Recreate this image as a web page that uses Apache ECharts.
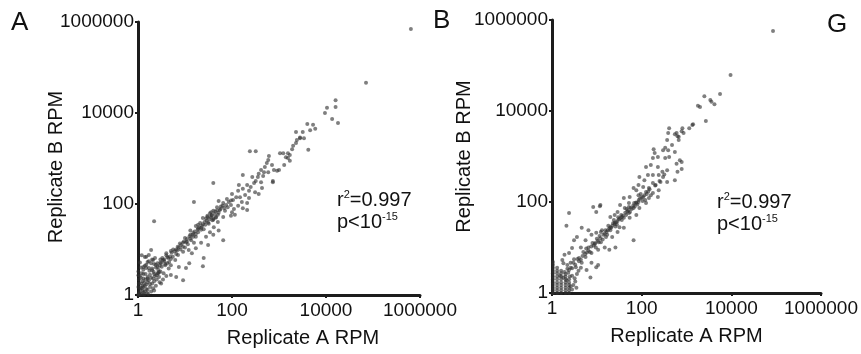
<!DOCTYPE html>
<html>
<head>
<meta charset="utf-8">
<script src="https://cdn.jsdelivr.net/npm/echarts@6/dist/echarts.min.js"></script>
<style>
  html, body { margin: 0; padding: 0; background: #fff; }
  #chart { width: 861px; height: 354px; }
</style>
</head>
<body>
<div id="chart"></div>
<script>
// axis ticks (log scale, base 100 steps)
const tickValues = [1, 100, 10000, 1000000]
const xName = 'Replicate A RPM'
const yName = 'Replicate B RPM'
const panelLetters = ['A', 'B', 'G']

// [Replicate A RPM, Replicate B RPM]
const pointsA = [
  [640000, 700000], [71000, 46000], [16000, 19000], [16000, 13500], [10500, 13000], [9500, 10000],
  [13500, 7400], [18000, 6000], [5300, 5500], [5900, 4500], [4000, 5700], [4600, 4200], [3200, 3800],
  [3400, 2800], [2800, 2800], [2300, 3800], [2800, 2900], [2400, 2550], [2300, 2200], [2000, 1900],
  [1900, 1600], [4200, 1550], [1550, 1300], [1230, 1300], [1050, 1300], [1700, 1200], [1400, 1070],
  [1550, 1020], [1700, 890], [240, 1450], [320, 1450], [610, 1130], [590, 930], [550, 800], [1290, 720],
  [710, 720], [500, 650], [780, 560], [1000, 560], [415, 560], [590, 500], [480, 500], [370, 460],
  [460, 415], [170, 435], [270, 390], [355, 390], [740, 320], [320, 320], [415, 300], [295, 290],
  [140, 260], [210, 260], [250, 235], [435, 225], [170, 215], [135, 195], [230, 195], [310, 182],
  [370, 166], [100, 166], [190, 158], [148, 141], [123, 141], [230, 135], [78, 129], [105, 123],
  [162, 110], [210, 105], [52, 117], [65, 105], [95, 95], [135, 91], [81, 85], [48, 85], [110, 78],
  [170, 81], [55, 74], [71, 71], [40, 71], [100, 66], [210, 74], [34, 63], [50, 58], [46, 52], [65, 52],
  [37, 55], [95, 55], [115, 58], [30, 52], [24, 49], [40, 45], [740, 300], [910, 540],
  [40, 290], [15.5, 110], [2.2, 42],
  [13, 26], [19, 35], [22, 27], [17, 19], [13.5, 16], [15.5, 14], [10.5, 14.5], [9, 14], [7.4, 11],
  [6.5, 10], [5, 9.3], [4, 8.3], [4.4, 6.5], [5.5, 6.9], [7.1, 7.6], [9.1, 8.9], [12, 9.8], [10, 11],
  [6.2, 5.9], [3.4, 5.9], [3.1, 5], [4.6, 5.3], [2.4, 4.6], [1.9, 9.8], [1.7, 7.6], [1.5, 6.9],
  [1.3, 4.1], [1.6, 5.3], [2.1, 5.9], [7.4, 4.1], [10.5, 3.9], [24, 4.3], [25, 6.5], [31, 12.5],
  [40, 21], [65, 16], [52, 26], [41, 31], [50, 40], [34, 24], [28, 19], [22, 14], [17, 10.7], [14, 8.3],
  [9.1, 2.1], [12.3, 5], [6.5, 2.5], [5, 2.75], [3.1, 1.8], [2.7, 3],
  [2, 3.5], [2.6, 4.2], [3, 5.2], [3.6, 6], [4.2, 6.8], [5.2, 8.5], [6, 9.2], [7, 11.5], [8.2, 12.5],
  [9.5, 15], [11, 17], [12.5, 19.5], [14.5, 21], [16, 25], [18.5, 27], [20, 31], [23, 33], [26, 40],
  [29, 43], [33, 47], [37, 57], [43, 60], [48, 72], [57, 78], [63, 92], [28, 48], [24, 36], [19, 29],
  [15, 23], [11, 15], [8, 10], [6.5, 8], [5, 6.2], [3.8, 4.8], [32, 37], [38, 44], [45, 50], [36, 66],
  [30, 55], [21, 38], [17, 33], [13, 21],
  [2.2, 4.8], [2.9, 4.4], [3.3, 6.5], [4, 7.5], [4.8, 7], [5.6, 10], [6.8, 9.5], [7.8, 13.5], [9, 11.5],
  [10, 18], [11.5, 13], [13, 17.5], [15, 19], [17, 22], [19, 24], [22, 30], [25, 28], [27, 35],
  [31, 39], [35, 52], [40, 48], [44, 68], [52, 64], [58, 88], [68, 82], [75, 95], [85, 110], [95, 120],
  [1.3, 2.9], [1.7, 3.9], [1.4, 4.4], [1.9, 5], [2.3, 6.5],
  [1.05, 1.1], [1.1, 1.3], [1.2, 1.05], [1.3, 1.5], [1.15, 1.8], [1.4, 1.2], [1.5, 1.7], [1.6, 1.3],
  [1.7, 2.1], [1.8, 1.5], [1.9, 2.4], [2, 1.8], [2.2, 2], [2.3, 2.6], [2.5, 2.2], [2.6, 3], [2.8, 2.5],
  [3, 3.3], [1.05, 2.2], [1.1, 2.6], [1.2, 3], [1.3, 2.3], [1.45, 2.9], [1.6, 2.5], [1.75, 3.4],
  [2, 3.8], [2.2, 2.9], [2.4, 4], [2.7, 3.6], [3.2, 4.2], [3.5, 3], [3.8, 4.5], [1.02, 1.5],
  [1.08, 1.02], [1.25, 1.25], [1.35, 1.02], [1.55, 1.1], [1.9, 1.2], [2.1, 1.4], [2.4, 1.6],
  [2.9, 1.9], [3.4, 2.2], [4, 2.6], [1.15, 4], [1.3, 3.6], [1.5, 4.6], [1.7, 5.5], [2, 6], [2.6, 5],
  [3, 6], [3.6, 5.5], [4.2, 5], [4.5, 3.8], [5, 4.5], [1.1, 5.2], [1.02, 3.3], [1.4, 6.8], [1.2, 7.5],
  [1.6, 1.9], [1.25, 1.6], [1.45, 2.2], [1.8, 2.8], [2.15, 3.2], [1.12, 1.45], [1.35, 1.85],
  [1.02, 1.02], [1.65, 1.05], [2.2, 1.25], [1.02, 2.7], [1.5, 3.9],
  [1.1, 1.1], [1.2, 1.4], [1.4, 1.6], [1.6, 2.3], [1.3, 1.15], [1.5, 1.35], [1.8, 1.75], [2.1, 2.3],
  [2.5, 2.7], [2.8, 3.2], [1.15, 2.4], [1.05, 1.8], [1.25, 2]
]

// [Replicate A RPM, Replicate B RPM]
const pointsB = [
  [85000, 570000], [9600, 62000], [5600, 23500], [2500, 21000], [3400, 17500], [3600, 16000],
  [4200, 14000], [1800, 13000], [2000, 12300], [2700, 6000], [1350, 4900], [1150, 4200], [810, 4200],
  [780, 3600], [860, 3300], [600, 3300], [670, 2700], [1400, 5100], [410, 4200], [630, 2800],
  [550, 3100], [390, 3300], [670, 2300], [370, 2300], [475, 1800], [335, 1550], [300, 1380],
  [390, 1380], [550, 1260], [185, 1450], [195, 1200], [230, 980], [178, 930], [335, 930], [410, 980],
  [710, 830], [780, 760], [600, 690], [780, 530], [630, 460], [550, 300], [370, 500], [290, 460],
  [160, 650], [230, 590], [125, 590], [138, 390], [178, 390], [240, 390], [300, 355], [263, 275],
  [370, 275], [89, 355], [115, 300], [178, 263], [205, 235], [85, 235], [108, 214], [145, 204],
  [240, 182], [125, 166], [178, 158], [76, 182], [66, 204], [230, 129], [145, 123], [108, 129],
  [85, 141], [54, 129], [125, 95], [76, 95], [40, 123], [52, 95], [66, 74], [89, 74], [42, 74],
  [33, 86], [29, 60], [52, 57], [76, 52], [36, 47], [54, 45], [25, 52], [20, 47], [12, 86],
  [2.4, 57], [2.1, 30], [11.7, 81], [9.7, 60], [8.3, 78], [4.6, 27], [6.5, 24], [3.6, 17], [3.1, 14.5],
  [5.6, 14.5], [7.6, 19], [9.7, 21], [12.3, 22], [4.4, 10], [2.8, 9.8], [2.4, 7.6], [6.5, 10],
  [9.2, 12.6], [12.3, 13], [16, 17], [22, 17], [29, 22], [17.5, 24], [40, 27], [32, 28], [25, 35],
  [20, 28], [66, 14.5], [26, 10], [19, 8.9], [15, 10], [10.7, 8.9], [7.6, 7.6], [5.6, 6.2], [4, 5.9],
  [4.6, 4.6], [3.4, 3.7], [7.6, 4.6], [10.7, 4.1], [9.7, 3.7], [7.2, 2.2], [5.9, 3.2], [2.4, 3.2],
  [1.7, 5.3], [1.9, 6.9],
  [1.8, 2.2], [2.3, 2.8], [2.8, 3.5], [3.3, 4.2], [4, 5], [4.8, 6.5], [5.5, 7.2], [6.5, 8.5],
  [7.5, 10.5], [9, 12], [10.5, 14], [12, 16], [14, 19], [16.5, 22], [19, 26], [22, 30], [25, 33],
  [29, 38], [33, 44], [38, 50], [43, 58], [50, 66], [57, 75], [65, 84], [75, 97], [86, 110], [100, 125],
  [115, 140], [30, 46], [36, 40], [45, 52], [27, 36], [20, 24], [15, 20], [11, 13], [8.5, 11], [6, 7.8],
  [13, 24], [18, 30], [24, 40], [28, 32], [46, 70], [55, 60], [70, 80], [85, 100], [95, 150],
  [120, 110], [140, 170],
  [3, 4.6], [3.7, 5.6], [4.4, 5.4], [5, 8], [5.8, 9.5], [7, 8], [8, 12.5], [9.5, 10], [10, 15.5],
  [11.5, 18], [13.5, 15], [15.5, 24], [17, 19], [21, 27], [23, 34], [26, 29], [31, 42], [35, 52],
  [40, 45], [48, 62], [52, 78], [60, 70], [68, 95], [80, 88], [92, 120], [105, 105], [130, 150],
  [150, 190], [160, 140], [200, 230], [250, 290], [320, 400], [1.5, 2.4], [1.9, 2.9], [2.2, 3.4],
  [2.6, 4.6], [3.1, 5.5], [2.1, 1.9], [2.5, 2.3],
  [1.05, 1], [1.05, 1.15], [1.05, 1.3], [1.05, 1.5], [1.05, 1.7], [1.05, 2], [1.05, 2.3], [1.05, 2.7],
  [1.05, 3.1], [1.05, 3.6], [1.05, 4.2], [1.05, 4.8],
  [1.3, 1], [1.3, 1.15], [1.3, 1.3], [1.3, 1.5], [1.3, 1.7], [1.3, 2], [1.3, 2.3], [1.3, 2.7],
  [1.3, 3.1], [1.3, 3.6],
  [1.6, 1], [1.6, 1.15], [1.6, 1.3], [1.6, 1.5], [1.6, 1.7], [1.6, 2], [1.6, 2.3], [1.6, 2.7], [1.6, 3.1],
  [2, 1], [2, 1.15], [2, 1.3], [2, 1.5], [2, 1.7], [2, 2], [2, 2.3], [2, 2.6],
  [2.4, 1], [2.4, 1.15], [2.4, 1.3], [2.4, 1.5], [2.4, 1.7], [2.4, 2],
  [2.8, 1.2], [3, 1.5], [3.3, 1.8], [2.8, 2.4], [3.6, 2.6], [3.2, 2.1], [2.6, 3.6], [3.9, 3.1],
  [4.4, 3.6], [2.2, 4.1], [1.8, 4.5], [2.6, 1.4], [3.5, 1.3]
]

const stats = { r2: '0.997', pExp: '-15' }

const chart = echarts.init(document.getElementById('chart'))
const font = 'Liberation Sans, Arial, sans-serif'
const axisColor = '#1c1c1c'

function makeAxis(kind, gridIndex, opts) {
  return Object.assign({
    type: 'log',
    logBase: 100,
    gridIndex,
    min: tickValues[0],
    max: tickValues[tickValues.length - 1],
    splitNumber: 3,
    nameLocation: 'middle',
    nameMoveOverlap: false,
    nameTextStyle: { fontFamily: font, fontSize: 20, color: '#111' },
    axisLine: { show: true, lineStyle: { color: axisColor, width: 3 } },
    axisTick: { show: true, length: 3, lineStyle: { color: axisColor, width: 2 } },
    splitLine: { show: false },
    axisLabel: {
      fontFamily: font,
      fontSize: 19,
      color: '#111',
      margin: kind === 'x' ? 6 : 4,
      formatter: v => String(Math.round(v))
    }
  }, opts)
}

const dotStyle = { color: 'rgba(50,50,50,0.78)' }

const option = {
  backgroundColor: '#fff',
  animation: false,
  grid: [
    { left: 138, top: 22, width: 282, height: 273 },
    { left: 552, top: 20, width: 280, height: 273 }
  ],
  xAxis: [
    makeAxis('x', 0, { name: xName, nameGap: 33, nameTextStyle: { fontFamily: font, fontSize: 20, color: '#111', padding: [0, 0, 0, 48] } }),
    makeAxis('x', 1, { name: xName, nameGap: 33 })
  ],
  yAxis: [
    makeAxis('y', 0, { name: yName, nameGap: 72, nameTextStyle: { fontFamily: font, fontSize: 20, color: '#111', padding: [0, 17, 0, 0] } }),
    makeAxis('y', 1, { name: yName, nameGap: 78 })
  ],
  series: [
    { type: 'scatter', xAxisIndex: 0, yAxisIndex: 0, data: pointsA, symbolSize: 4, itemStyle: dotStyle },
    { type: 'scatter', xAxisIndex: 1, yAxisIndex: 1, data: pointsB, symbolSize: 4, itemStyle: dotStyle }
  ],
  graphic: [
    { type: 'text', left: 11, top: 10, style: { text: panelLetters[0], font: '26px ' + font, fill: '#111' } },
    { type: 'text', left: 433, top: 8, style: { text: panelLetters[1], font: '26px ' + font, fill: '#111' } },
    { type: 'text', left: 827, top: 12, style: { text: panelLetters[2], font: '26px ' + font, fill: '#111' } },
    ...[[337, 189], [717, 191]].map(([x, y]) => ({
      type: 'text', left: x, top: y,
      style: {
        text: '{t|r}{s|2}{t|=' + stats.r2 + '}\n{t|p<10}{s|' + stats.pExp + '}',
        rich: {
          t: { fontFamily: font, fontSize: 20, lineHeight: 22, fill: '#111' },
          s: { fontFamily: font, fontSize: 11, lineHeight: 22, fill: '#111', verticalAlign: 'top', padding: [0, 0, 8, 0] }
        }
      }
    }))
  ]
}

chart.setOption(option)
</script>
</body>
</html>
